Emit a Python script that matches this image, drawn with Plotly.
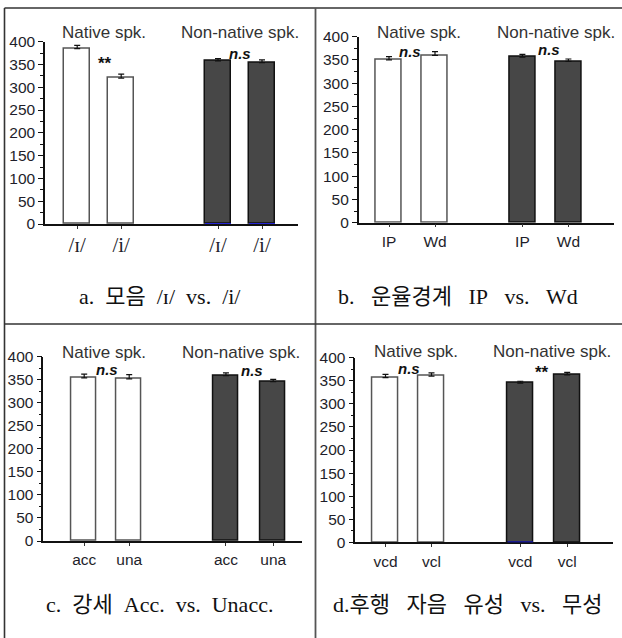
import plotly.graph_objects as go

W, H = 622, 638

# ---- data -------------------------------------------------------------
group_names = ["Native spk.", "Non-native spk."]

vowel_labels = ["/ɪ/", "/i/", "/ɪ/", "/i/"]
vowel_means = [385, 320, 358, 354]
vowel_err = [7, 9, 5, 6]
vowel_sig = ["**", "n.s"]

boundary_labels = ["IP", "Wd", "IP", "Wd"]
boundary_means = [350, 360, 356, 347]
boundary_err = [7, 8, 6, 5]
boundary_sig = ["n.s", "n.s"]

accent_labels = ["acc", "una", "acc", "una"]
accent_means = [354, 352, 359, 346]
accent_err = [8, 9, 6, 5]
accent_sig = ["n.s", "n.s"]

voicing_labels = ["vcd", "vcl", "vcd", "vcl"]
voicing_means = [357, 360, 345, 363]
voicing_err = [7, 7, 4, 5]
voicing_sig = ["n.s", "**"]


def spaced(*words, gap=2):
    """Join caption words with a fixed run of non-breaking spaces."""
    return ("\u00a0" * gap).join(words)


captions = [
    spaced("a.", "모음", "/ɪ/", "vs.", "/i/", gap=2),
    spaced("b.", "운율경계", "IP", "vs.", "Wd", gap=3),
    spaced("c.", "강세", "Acc.", "vs.", "Unacc.", gap=2),
    spaced("d.후행", "자음", "유성", "vs.", "무성", gap=3),
]

Y_MAX = 400
Y_TICKS = list(range(0, 401, 50))

# ---- panel geometry (pixels in the page) ------------------------------
panels = [
    dict(labels=vowel_labels, means=vowel_means, err=vowel_err, sig=vowel_sig,
         ax=45, right=298, y0=224, ytop=41.7, c0=77.2, unit=44,
         slots=[0, 1, 3.2, 4.2], bw=26, title_x=[104, 240], title_y=33,
         sig_y=[64, 53], sig_dx=[6, 0], serif_ticks=True, cap_y=296, cap_x=160),
    dict(labels=boundary_labels, means=boundary_means, err=boundary_err, sig=boundary_sig,
         ax=358.7, right=614, y0=222.7, ytop=36.7, c0=389, unit=46,
         slots=[0, 1, 2.9, 3.9], bw=26, title_x=[419, 556], title_y=33,
         sig_y=[52, 50], sig_dx=[-2, 4], serif_ticks=False, cap_y=296, cap_x=458),
    dict(labels=accent_labels, means=accent_means, err=accent_err, sig=accent_sig,
         ax=43.3, right=301.7, y0=541, ytop=356.7, c0=84.2, unit=45,
         slots=[0, 1, 3.15, 4.2], bw=25, title_x=[104, 241], title_y=352,
         sig_y=[369, 370], sig_dx=[0, 2], serif_ticks=False, cap_y=604, cap_x=159),
    dict(labels=voicing_labels, means=voicing_means, err=voicing_err, sig=voicing_sig,
         ax=355.3, right=612.7, y0=542.3, ytop=357.7, c0=385.5, unit=46,
         slots=[0, 1, 2.93, 3.95], bw=25.5, title_x=[416, 552], title_y=351,
         sig_y=[368, 372], sig_dx=[0, -2], serif_ticks=False, cap_y=604, cap_x=467),
]

# dark bars whose base line shows in blue
blue_bases = [(0, 2), (0, 3), (3, 2)]

SANS = "Liberation Sans, Arial, sans-serif"
SERIF = "Liberation Serif, Times New Roman, Noto Sans CJK KR, serif"
WHITE_FILL, WHITE_EDGE = "#ffffff", "#555555"
DARK_FILL, DARK_EDGE = "#474747", "#111111"


def px_x(p):
    return p / W


def px_y(p):
    return 1 - p / H


fig = go.Figure()
shapes = []
annotations = []

for k, p in enumerate(panels):
    sx = "" if k == 0 else str(k + 1)
    xa, ya = "x" + sx, "y" + sx
    unit, c0 = p["unit"], p["c0"]
    xs = p["slots"]
    w = p["bw"] / unit

    for g in range(2):
        idx = [2 * g, 2 * g + 1]
        fig.add_trace(go.Bar(
            x=[xs[i] for i in idx],
            y=[p["means"][i] for i in idx],
            width=w,
            marker=dict(color=WHITE_FILL if g == 0 else DARK_FILL,
                        line=dict(color=WHITE_EDGE if g == 0 else DARK_EDGE, width=1.5)),
            error_y=dict(type="data", symmetric=False,
                         array=[p["err"][i] for i in idx], arrayminus=[0, 0],
                         color="#111111", thickness=1.2, width=3),
            xaxis=xa, yaxis=ya, showlegend=False, hoverinfo="skip",
        ))

    xr = [(p["ax"] - c0) / unit, (p["right"] - c0) / unit]
    tick_font = dict(family=SERIF if p["serif_ticks"] else SANS,
                     size=21 if p["serif_ticks"] else 15.5, color="#1e1e2a")
    fig.layout["xaxis" + sx] = dict(
        domain=[px_x(p["ax"]), px_x(p["right"])], range=xr, anchor=ya,
        showline=True, linecolor="#111111", linewidth=1.5,
        ticks="outside", ticklen=3, tickwidth=1, tickcolor="#333333",
        tickvals=xs, ticktext=p["labels"], tickfont=tick_font,
        ticklabelstandoff=-2 if p["serif_ticks"] else 1,
        showgrid=False, zeroline=False, fixedrange=True, automargin=False,
    )
    fig.layout["yaxis" + sx] = dict(
        domain=[px_y(p["y0"]), px_y(p["ytop"])], range=[0, Y_MAX], anchor=xa,
        showline=True, linecolor="#111111", linewidth=1.5,
        ticks="outside", ticklen=5, tickwidth=1, tickcolor="#111111",
        tickvals=Y_TICKS, tickfont=dict(family=SANS, size=15.5, color="#1e1e2a"),
        minor=dict(dtick=25, ticks="outside", ticklen=3, tickcolor="#111111"),
        showgrid=False, zeroline=False, fixedrange=True, automargin=False,
    )

    # group headings
    for g in range(2):
        annotations.append(dict(
            text=group_names[g], xref="paper", yref="paper",
            x=px_x(p["title_x"][g]), y=px_y(p["title_y"]),
            showarrow=False, xanchor="center", yanchor="middle",
            font=dict(family=SANS, size=17, color="#333333"),
        ))

    # significance marks between the bars of each group
    for g in range(2):
        mid = (xs[2 * g] + xs[2 * g + 1]) / 2
        label = p["sig"][g]
        is_ns = label == "n.s"
        annotations.append(dict(
            text=f"<b><i>{label}</i></b>" if is_ns else f"<b>{label}</b>",
            xref=xa, yref="paper", x=mid, xshift=p["sig_dx"][g],
            y=px_y(p["sig_y"][g]), showarrow=False,
            xanchor="center", yanchor="middle",
            font=dict(family=SANS, size=15 if is_ns else 17, color="#111111"),
        ))

    # caption under the chart
    annotations.append(dict(
        text=captions[k], xref="paper", yref="paper",
        x=px_x(p["cap_x"]), y=px_y(p["cap_y"]), showarrow=False,
        xanchor="center", yanchor="middle",
        font=dict(family=SERIF, size=22, color="#111111"),
    ))

# blue base lines under some dark bars
for k, i in blue_bases:
    p = panels[k]
    sx = "" if k == 0 else str(k + 1)
    half = p["bw"] / p["unit"] / 2
    xc = p["slots"][i]
    shapes.append(dict(type="line", xref="x" + sx, yref="y" + sx,
                       x0=xc - half, x1=xc + half, y0=0, y1=0,
                       line=dict(color="#1a1aff", width=1.5)))

# table frame
frame = dict(color="#333333", width=1.6)
shapes += [
    dict(type="line", xref="paper", yref="paper", x0=px_x(4.5), x1=px_x(4.5),
         y0=px_y(8), y1=0, line=frame),
    dict(type="line", xref="paper", yref="paper", x0=px_x(4.5), x1=1,
         y0=px_y(8), y1=px_y(8), line=frame),
    dict(type="line", xref="paper", yref="paper", x0=px_x(315.5), x1=px_x(315.5),
         y0=px_y(8), y1=0, line=dict(color="#555555", width=1.8)),
    dict(type="line", xref="paper", yref="paper", x0=px_x(4.5), x1=1,
         y0=px_y(324), y1=px_y(324), line=frame),
]

fig.update_layout(
    width=W, height=H, margin=dict(l=0, r=0, t=0, b=0, autoexpand=False),
    paper_bgcolor="white", plot_bgcolor="white",
    showlegend=False, bargap=0,
    shapes=shapes, annotations=annotations,
)

fig.write_html("out.html")
